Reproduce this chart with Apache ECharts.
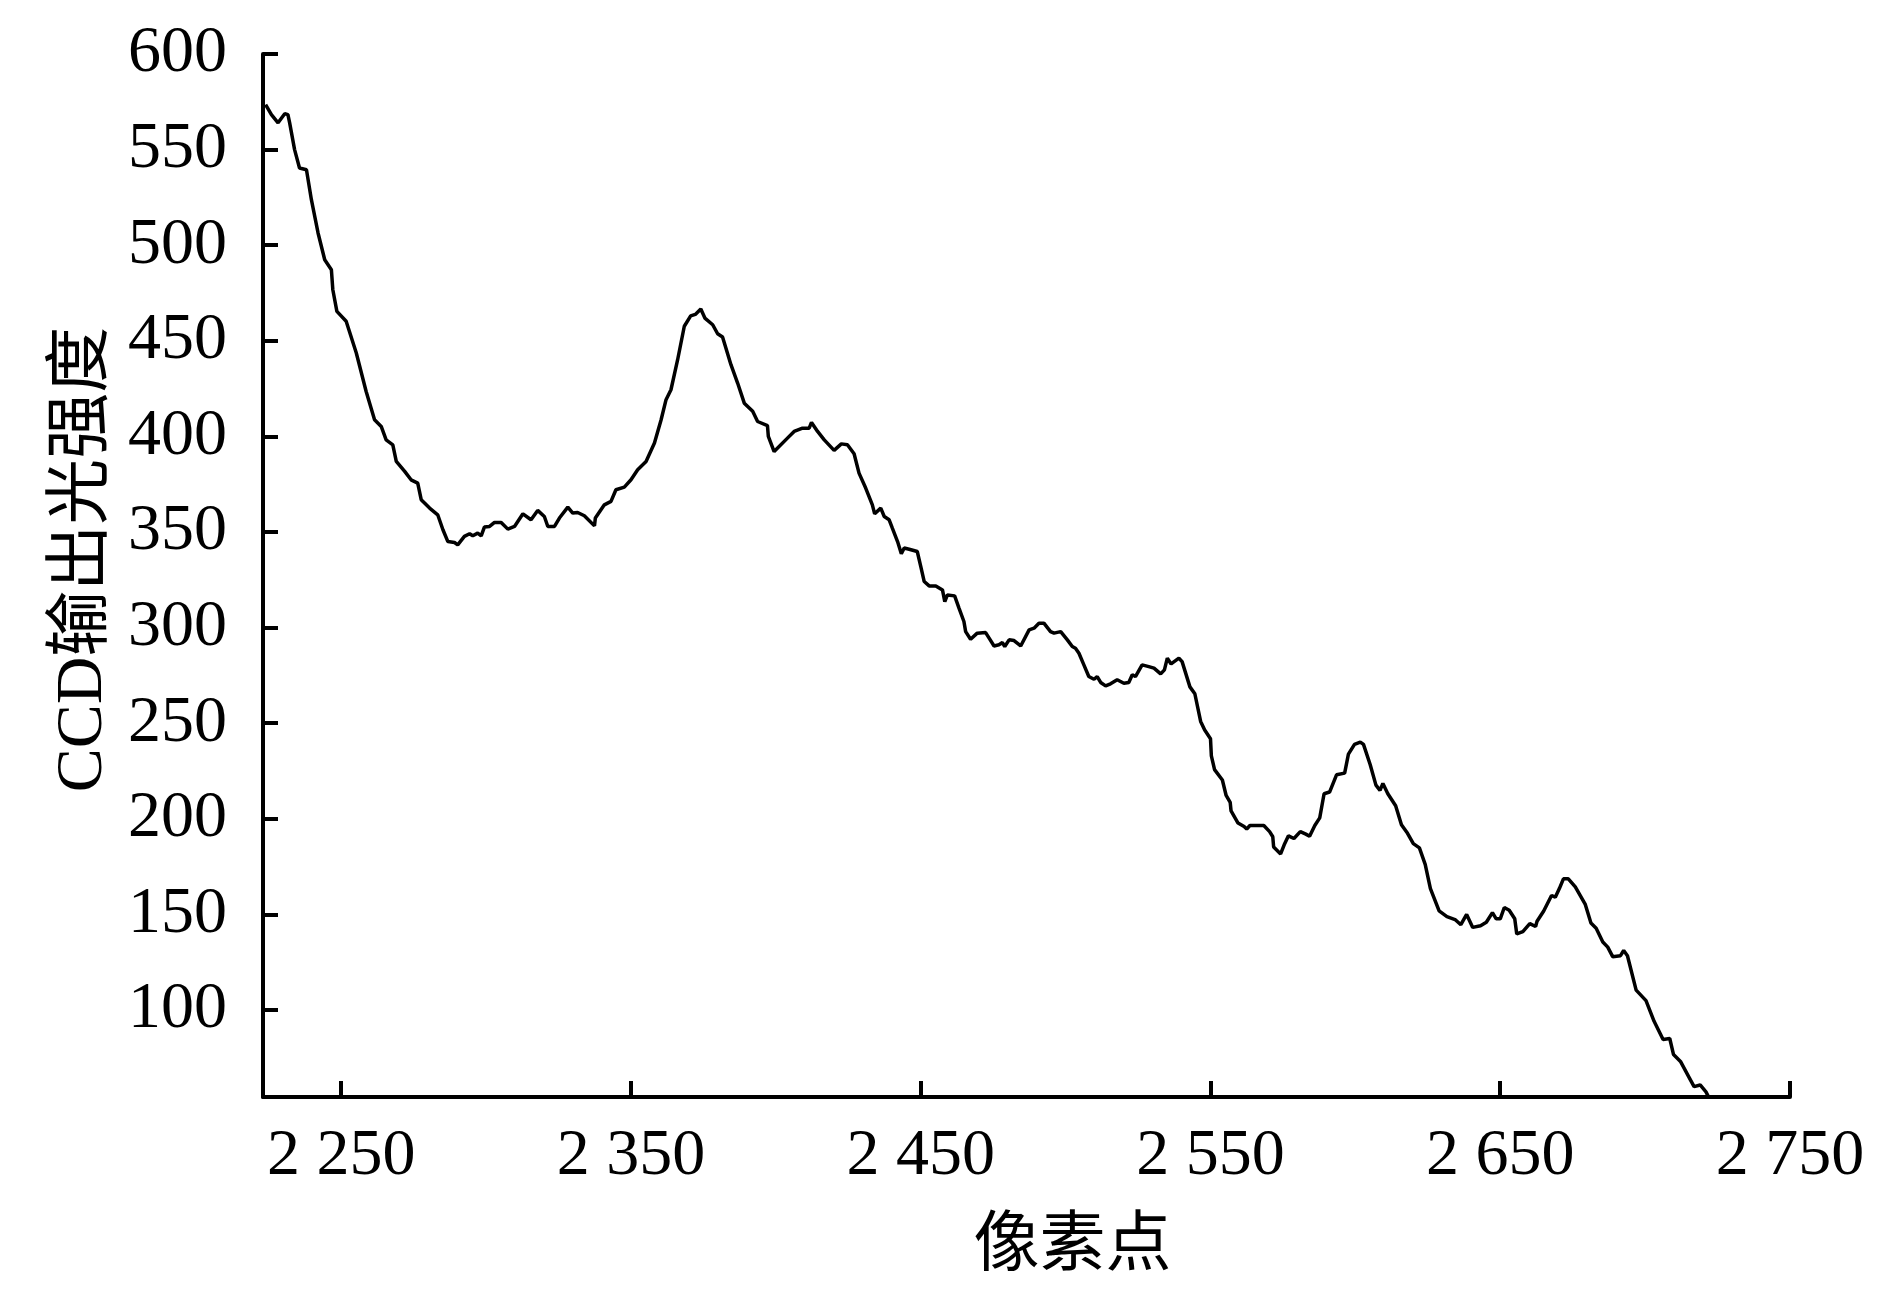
<!DOCTYPE html>
<html>
<head>
<meta charset="utf-8">
<title>CCD输出光强度</title>
<script src="https://cdn.jsdelivr.net/npm/echarts@6.0.0/dist/echarts.min.js"></script>
<style>
    html, body { margin: 0; padding: 0; background: #fff; }
    #line_chart_ccd { width: 1890px; height: 1299px; }
</style>
</head>
<body>
<div id="line_chart_ccd"></div>
<script>
// 像素点 (x) và cường độ (y)
var pixel = [
    2223.9, 2225.9, 2228.2, 2230.5, 2231.6, 2232.2, 2233.9, 2235.6, 2238.0, 2239.7,
    2242.0, 2244.3, 2246.6, 2247.1, 2248.5, 2251.7, 2255.2, 2258.6, 2261.5, 2263.8,
    2265.5, 2267.8, 2269.0, 2271.9, 2274.1, 2276.4, 2277.6, 2280.5, 2283.3, 2285.1,
    2286.8, 2289.1, 2290.2, 2292.5, 2294.3, 2295.4, 2297.1, 2298.3, 2299.4, 2301.2,
    2302.9, 2305.2, 2307.5, 2309.8, 2312.7, 2315.5, 2317.8, 2320.1, 2321.3, 2323.6,
    2325.3, 2328.2, 2329.9, 2331.6, 2333.9, 2337.4, 2337.7, 2340.8, 2343.1, 2344.8,
    2347.7, 2350.0, 2352.3, 2355.2, 2358.1, 2360.4, 2362.1, 2363.8, 2366.1, 2368.4,
    2370.6, 2372.2, 2374.1, 2375.5, 2378.2, 2379.9, 2381.6, 2384.5, 2386.8, 2389.1,
    2392.0, 2393.7, 2397.1, 2397.4, 2399.4, 2404.0, 2406.3, 2409.2, 2411.5, 2412.3,
    2414.4, 2416.7, 2420.1, 2422.6, 2424.7, 2427.0, 2428.7, 2431.0, 2433.3, 2434.1,
    2436.2, 2437.4, 2439.1, 2440.2, 2442.0, 2443.3, 2444.3, 2446.0, 2448.8, 2450.0,
    2451.2, 2452.9, 2455.2, 2457.5, 2458.3, 2459.2, 2461.7, 2463.2, 2464.9, 2465.5,
    2467.2, 2469.5, 2472.4, 2473.6, 2475.3, 2477.0, 2478.2, 2479.0, 2480.5, 2482.2,
    2484.5, 2487.4, 2489.1, 2490.8, 2492.5, 2494.8, 2496.0, 2498.3, 2500.6, 2502.3,
    2503.4, 2504.6, 2506.3, 2508.0, 2509.8, 2510.9, 2512.1, 2513.8, 2515.5, 2517.8,
    2520.1, 2521.8, 2523.0, 2524.1, 2526.4, 2528.7, 2530.5, 2532.8, 2534.1, 2535.1,
    2536.4, 2539.1, 2540.2, 2542.9, 2544.6, 2546.6, 2548.0, 2550.0, 2550.3, 2551.4,
    2554.1, 2555.4, 2556.8, 2557.1, 2559.5, 2561.6, 2562.5, 2563.6, 2568.4, 2570.4,
    2571.5, 2571.8, 2574.2, 2575.6, 2576.9, 2578.8, 2581.0, 2582.9, 2584.2, 2586.0,
    2587.7, 2589.2, 2591.1, 2593.5, 2596.3, 2597.6, 2599.7, 2601.7, 2602.8, 2605.1,
    2607.1, 2608.5, 2609.5, 2611.2, 2613.9, 2615.9, 2618.0, 2620.0, 2622.1, 2624.1,
    2625.9, 2628.9, 2631.6, 2634.4, 2636.4, 2638.4, 2640.5, 2643.2, 2645.2, 2647.3,
    2648.6, 2650.0, 2651.4, 2653.1, 2655.0, 2655.7, 2657.8, 2660.2, 2662.2, 2662.7,
    2665.0, 2667.7, 2669.0, 2670.4, 2671.8, 2673.5, 2675.9, 2679.3, 2681.3, 2683.1,
    2685.4, 2687.1, 2688.8, 2691.5, 2692.6, 2693.9, 2696.9, 2700.3, 2703.1, 2706.2,
    2708.5, 2709.8, 2712.2, 2715.3, 2716.9, 2719.0, 2721.0, 2721.9
];
var intensity = [
    573.5, 568.3, 564.0, 568.8, 568.3, 564.0, 550.0, 540.4, 539.5, 523.8,
    506.4, 492.4, 487.2, 476.7, 465.4, 460.2, 443.6, 423.5, 408.7, 405.2,
    398.2, 395.6, 386.9, 381.7, 377.3, 375.6, 366.9, 362.5, 359.0, 351.2,
    345.0, 344.5, 343.3, 347.7, 349.1, 348.0, 349.4, 348.0, 352.6, 352.9,
    355.0, 355.0, 351.5, 352.9, 359.5, 356.4, 361.3, 358.1, 352.9, 352.9,
    357.3, 363.0, 359.9, 360.2, 358.5, 353.2, 357.3, 364.2, 366.0, 372.1,
    373.5, 377.3, 382.6, 386.9, 396.5, 408.7, 419.2, 424.4, 440.1, 457.6,
    463.0, 463.8, 466.6, 461.9, 458.4, 453.7, 452.0, 437.5, 427.9, 417.4,
    413.1, 407.8, 405.6, 400.0, 392.1, 399.1, 402.6, 404.3, 404.3, 407.3,
    402.6, 398.2, 392.7, 396.1, 395.6, 390.9, 380.8, 373.0, 364.2, 359.5,
    362.5, 358.1, 356.4, 352.0, 345.0, 338.6, 341.6, 341.0, 339.8, 332.0,
    324.1, 321.8, 321.8, 319.7, 313.6, 317.1, 316.6, 310.2, 303.2, 297.9,
    293.9, 297.1, 297.4, 294.5, 290.4, 291.0, 292.2, 290.1, 293.6, 293.2,
    290.4, 298.8, 299.7, 302.3, 302.3, 297.9, 297.1, 297.9, 293.6, 290.1,
    289.2, 286.6, 280.5, 274.4, 273.0, 274.4, 271.3, 269.5, 270.6, 272.7,
    270.9, 271.3, 275.3, 274.4, 280.5, 279.6, 278.8, 275.8, 277.9, 284.0,
    281.0, 284.0, 282.2, 269.0, 265.4, 250.9, 246.4, 241.9, 232.9, 225.7,
    220.3, 212.2, 208.6, 204.1, 197.8, 196.0, 194.7, 196.5, 196.5, 193.3,
    190.6, 185.2, 181.6, 187.0, 191.1, 189.7, 193.3, 192.0, 190.9, 196.5,
    200.5, 213.1, 214.0, 223.0, 223.9, 233.8, 238.9, 240.1, 238.9, 228.4,
    217.6, 214.9, 218.5, 213.1, 206.8, 196.9, 192.4, 187.0, 184.8, 176.2,
    163.5, 151.8, 148.8, 147.3, 144.6, 150.0, 143.2, 144.1, 145.9, 150.9,
    147.7, 147.7, 153.6, 152.2, 147.7, 139.8, 141.0, 145.2, 143.7, 146.4,
    151.8, 159.9, 159.0, 163.5, 168.6, 168.6, 164.4, 155.4, 145.5, 142.8,
    135.6, 132.9, 127.9, 128.4, 131.1, 128.4, 110.4, 104.9, 94.1, 84.6,
    85.1, 76.7, 73.1, 64.4, 59.9, 60.8, 57.2, 54.5
];
var xTicks = [2250, 2350, 2450, 2550, 2650, 2750];
var yTicks = [100, 150, 200, 250, 300, 350, 400, 450, 500, 550, 600];

var serif = "'Liberation Serif', 'Times New Roman', 'Noto Sans CJK SC', serif";

function GenChartCCD() {
    var myChart = echarts.init(document.getElementById('line_chart_ccd'), null, { renderer: 'canvas' });

    var points = pixel.map(function (x, i) { return [x, intensity[i]]; });

    var option = {
        animation: false,
        backgroundColor: '#fff',
        grid: {
            left: 263,
            right: 100,
            top: 54,
            bottom: 202
        },
        xAxis: {
            type: 'value',
            min: 2223,
            max: 2750,
            name: '像素点',
            nameLocation: 'middle',
            nameGap: 118,
            nameTextStyle: {
                fontFamily: serif,
                fontSize: 66,
                color: '#000',
                padding: [0, 0, 0, 92]
            },
            splitLine: { show: false },
            axisLine: { lineStyle: { color: '#000', width: 4 } },
            axisTick: {
                inside: true,
                length: 16,
                customValues: xTicks,
                lineStyle: { color: '#000', width: 4 }
            },
            axisLabel: {
                customValues: xTicks,
                margin: 27,
                fontFamily: serif,
                fontSize: 66,
                color: '#000',
                formatter: function (v) {
                    return String(v).replace(/^(\d)(\d{3})$/, '$1 $2');
                }
            }
        },
        yAxis: {
            type: 'value',
            min: 54.5,
            max: 600,
            name: 'CCD输出光强度',
            nameLocation: 'middle',
            nameRotate: 90,
            nameGap: 145,
            nameTextStyle: {
                fontFamily: serif,
                fontSize: 66,
                color: '#000',
                padding: [0, 0, 0, 32]
            },
            splitLine: { show: false },
            axisLine: { lineStyle: { color: '#000', width: 4 } },
            axisTick: {
                inside: true,
                length: 15,
                customValues: yTicks,
                lineStyle: { color: '#000', width: 4 }
            },
            axisLabel: {
                customValues: yTicks,
                margin: 36,
                fontFamily: serif,
                fontSize: 66,
                color: '#000'
            }
        },
        series: [{
            type: 'line',
            data: points,
            showSymbol: false,
            lineStyle: {
                color: '#000',
                width: 3.5
            }
        }]
    };
    myChart.setOption(option);
}

GenChartCCD();
</script>
</body>
</html>
